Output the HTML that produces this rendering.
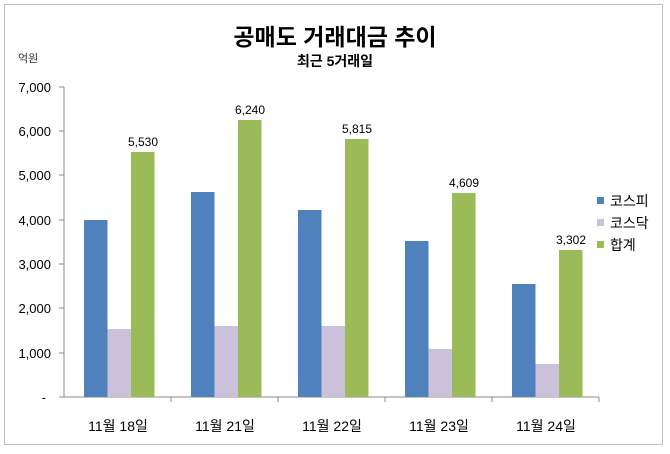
<!DOCTYPE html><html><head><meta charset="utf-8"><style>body{margin:0;background:#fff}svg text{font-family:"Liberation Sans","Noto Sans CJK KR",sans-serif}</style></head><body>
<svg width="670" height="449" xmlns="http://www.w3.org/2000/svg">
<rect x="4.5" y="4.5" width="658" height="440" fill="#fff" stroke="#bfbfbf"/>
<text x="335" y="45" text-anchor="middle" font-size="23" font-weight="bold">공매도 거래대금 추이</text>
<text x="335" y="66" text-anchor="middle" font-size="14" font-weight="bold">최근 5거래일</text>
<text x="18" y="62" font-size="11" fill="#333">억원</text>
<g font-size="13" text-anchor="end" fill="#000">
<text x="51" y="92">7,000</text><text x="51" y="136">6,000</text><text x="51" y="180">5,000</text><text x="51" y="225">4,000</text><text x="51" y="269">3,000</text><text x="51" y="313">2,000</text><text x="51" y="358">1,000</text><text x="46" y="402">-</text>
</g>
<g stroke="#888"><line x1="64" y1="87" x2="64" y2="397"/><line x1="64" y1="397" x2="599" y2="397"/>
<line x1="59" y1="87" x2="64" y2="87"/><line x1="59" y1="131" x2="64" y2="131"/><line x1="59" y1="175" x2="64" y2="175"/><line x1="59" y1="220" x2="64" y2="220"/><line x1="59" y1="264" x2="64" y2="264"/><line x1="59" y1="308" x2="64" y2="308"/><line x1="59" y1="353" x2="64" y2="353"/><line x1="59" y1="397" x2="64" y2="397"/>
<line x1="171" y1="397" x2="171" y2="402"/><line x1="278" y1="397" x2="278" y2="402"/><line x1="385" y1="397" x2="385" y2="402"/><line x1="492" y1="397" x2="492" y2="402"/><line x1="599" y1="397" x2="599" y2="402"/></g>
<g>
<rect x="84" y="220" width="23.5" height="177" fill="#4f81bd"/><rect x="107.5" y="329" width="23.5" height="68" fill="#ccc1da"/><rect x="131" y="152" width="23.5" height="245" fill="#9bbb59"/>
<rect x="191" y="192" width="23.5" height="205" fill="#4f81bd"/><rect x="214.5" y="326" width="23.5" height="71" fill="#ccc1da"/><rect x="238" y="120" width="23.5" height="277" fill="#9bbb59"/>
<rect x="298" y="210" width="23.5" height="187" fill="#4f81bd"/><rect x="321.5" y="326" width="23.5" height="71" fill="#ccc1da"/><rect x="345" y="139" width="23.5" height="258" fill="#9bbb59"/>
<rect x="405" y="241" width="23.5" height="156" fill="#4f81bd"/><rect x="428.5" y="349" width="23.5" height="48" fill="#ccc1da"/><rect x="452" y="193" width="23.5" height="204" fill="#9bbb59"/>
<rect x="512" y="284" width="23.5" height="113" fill="#4f81bd"/><rect x="535.5" y="364" width="23.5" height="33" fill="#ccc1da"/><rect x="559" y="250" width="23.5" height="147" fill="#9bbb59"/>
</g>
<g font-size="12" text-anchor="middle">
<text x="143" y="146">5,530</text><text x="250" y="114">6,240</text><text x="357" y="133">5,815</text><text x="464" y="187">4,609</text><text x="571" y="244">3,302</text>
</g>
<g font-size="14" text-anchor="middle">
<text x="118" y="431">11월 18일</text><text x="225" y="431">11월 21일</text><text x="332" y="431">11월 22일</text><text x="439" y="431">11월 23일</text><text x="546" y="431">11월 24일</text>
</g>
<rect x="597" y="197" width="7" height="7" fill="#4f81bd"/><text x="610" y="206" font-size="14">코스피</text>
<rect x="597" y="219" width="7" height="7" fill="#ccc1da"/><text x="610" y="228" font-size="14">코스닥</text>
<rect x="597" y="241" width="7" height="7" fill="#9bbb59"/><text x="610" y="250" font-size="14">합계</text>
</svg></body></html>
